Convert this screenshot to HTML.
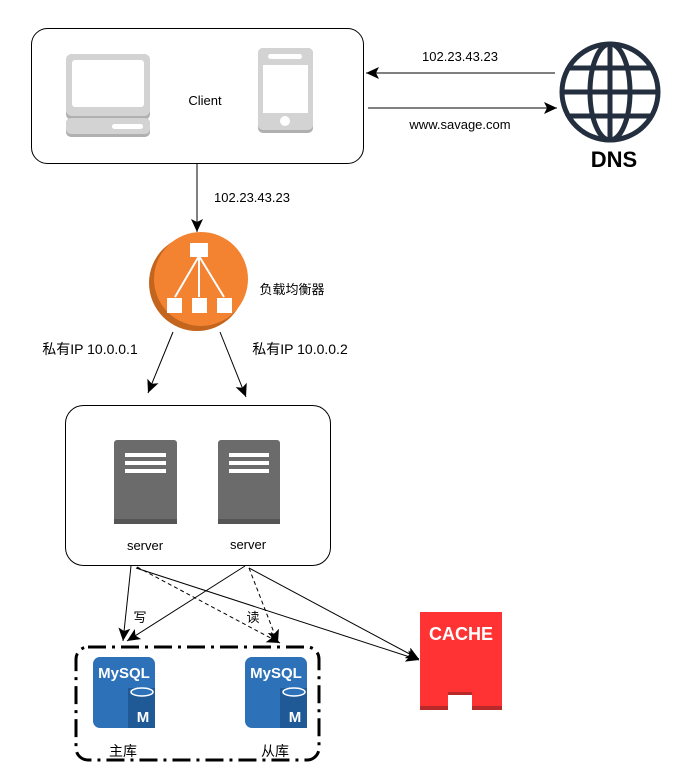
<!DOCTYPE html>
<html><head><meta charset="utf-8"><style>body{margin:0;background:#fff}svg{display:block}text{font-family:"Liberation Sans","Noto Sans CJK SC",sans-serif}</style></head><body>
<svg width="696" height="778" viewBox="0 0 696 778" xmlns="http://www.w3.org/2000/svg">
<defs><marker id="a" markerWidth="14" markerHeight="14" refX="13" refY="6" orient="auto" markerUnits="userSpaceOnUse"><path d="M0,0 L13,6 L0,12 L3,6z" fill="#000"/></marker></defs>
<rect x="31.5" y="28.5" width="332" height="135" rx="16" fill="#fff" stroke="#000"/>
<rect x="66" y="54" width="84" height="66" rx="6" fill="#b0b0b0"/>
<rect x="66" y="54" width="84" height="62" rx="6" fill="#d3d3d3"/>
<rect x="72" y="60" width="72" height="47" rx="3" fill="#fff"/>
<rect x="66" y="118" width="84" height="19" rx="5" fill="#b0b0b0"/>
<rect x="66" y="118" width="84" height="16" rx="5" fill="#d3d3d3"/>
<rect x="112" y="124" width="31" height="5" rx="2.5" fill="#fff"/>
<rect x="258" y="48" width="55" height="85" rx="5" fill="#b0b0b0"/>
<rect x="258" y="48" width="55" height="82" rx="5" fill="#d3d3d3"/>
<rect x="268" y="54" width="34" height="5" rx="2.5" fill="#fff"/>
<rect x="263" y="65" width="45" height="48" fill="#fff"/>
<circle cx="285" cy="121" r="5" fill="#fff"/>
<text x="205" y="105" font-size="13" text-anchor="middle">Client</text>
<g fill="none" stroke="#232f3e" stroke-width="5"><circle cx="610" cy="92" r="48"/><ellipse cx="610" cy="92" rx="20" ry="48"/><line x1="610" y1="44" x2="610" y2="140"/><line x1="562" y1="92" x2="658" y2="92"/><path d="M568,68 H652 M568,116 H652"/></g>
<text x="614" y="167" font-size="22" font-weight="bold" text-anchor="middle">DNS</text>
<line x1="555" y1="73" x2="366" y2="73" stroke="#000" marker-end="url(#a)"/>
<text x="460" y="61" font-size="13" text-anchor="middle">102.23.43.23</text>
<line x1="368" y1="108" x2="557" y2="108" stroke="#000" marker-end="url(#a)"/>
<text x="460" y="129" font-size="13" text-anchor="middle">www.savage.com</text>
<line x1="197" y1="164" x2="197" y2="232" stroke="#000" marker-end="url(#a)"/>
<text x="252" y="202" font-size="13" text-anchor="middle">102.23.43.23</text>
<circle cx="197" cy="283" r="48" fill="#c4651d"/>
<circle cx="201" cy="279" r="47" fill="#f38231"/>
<g fill="#fff" stroke="#fff" stroke-width="2"><rect x="191" y="244" width="16" height="12"/><rect x="168" y="299" width="13" height="13"/><rect x="193" y="299" width="13" height="13"/><rect x="218" y="299" width="13" height="13"/><path d="M199,256 V297 M199,256 L175,297 M199,256 L224,297" fill="none"/></g>
<text x="292" y="294" font-size="13" text-anchor="middle">负载均衡器</text>
<line x1="173" y1="332" x2="148" y2="393" stroke="#000" marker-end="url(#a)"/>
<line x1="220" y1="332" x2="246" y2="397" stroke="#000" marker-end="url(#a)"/>
<text x="90" y="354" font-size="14" text-anchor="middle">私有IP 10.0.0.1</text>
<text x="300" y="354" font-size="14" text-anchor="middle">私有IP 10.0.0.2</text>
<rect x="65.5" y="405.5" width="265" height="160" rx="18" fill="#fff" stroke="#000"/>
<g><rect x="114" y="440" width="63" height="84" rx="3" fill="#6b6b6b"/><rect x="114" y="519" width="63" height="5" fill="#555"/><g fill="#fff"><rect x="125" y="453" width="41" height="4"/><rect x="125" y="461" width="41" height="4"/><rect x="125" y="469" width="41" height="4"/></g></g>
<g><rect x="218" y="440" width="62" height="84" rx="3" fill="#6b6b6b"/><rect x="218" y="519" width="62" height="5" fill="#555"/><g fill="#fff"><rect x="229" y="453" width="40" height="4"/><rect x="229" y="461" width="40" height="4"/><rect x="229" y="469" width="40" height="4"/></g></g>
<text x="145" y="550" font-size="13" text-anchor="middle">server</text>
<text x="248" y="549" font-size="13" text-anchor="middle">server</text>
<g stroke="#000" fill="none">
<line x1="131" y1="566" x2="123" y2="641" marker-end="url(#a)"/>
<line x1="245" y1="566" x2="127" y2="641" marker-end="url(#a)"/>
<line x1="137" y1="567" x2="280" y2="643" stroke-dasharray="4,3" marker-end="url(#a)"/>
<line x1="249" y1="568" x2="278" y2="643" stroke-dasharray="4,3" marker-end="url(#a)"/>
<line x1="136" y1="568" x2="419" y2="660" marker-end="url(#a)"/>
<line x1="249" y1="568" x2="419" y2="659" marker-end="url(#a)"/>
</g>
<text x="140" y="622" font-size="13" text-anchor="middle">写</text>
<text x="253" y="622" font-size="13" text-anchor="middle">读</text>
<rect x="76" y="647" width="243" height="113" rx="12" fill="none" stroke="#000" stroke-width="3" stroke-dasharray="18,6,3,6"/>
<g font-weight="bold" fill="#fff">
<rect x="93" y="657" width="62" height="71" rx="7" fill="#2d72b8"/>
<rect x="128" y="688" width="27" height="40" fill="#1f5a96"/>
<ellipse cx="142" cy="692" rx="11" ry="4" fill="#2d72b8" stroke="#fff" stroke-width="1.5"/>
<text x="124" y="678" font-size="15" text-anchor="middle">MySQL</text><text x="143" y="722" font-size="15" text-anchor="middle">M</text>
<rect x="245" y="657" width="62" height="71" rx="7" fill="#2d72b8"/>
<rect x="280" y="688" width="27" height="40" fill="#1f5a96"/>
<ellipse cx="294" cy="692" rx="11" ry="4" fill="#2d72b8" stroke="#fff" stroke-width="1.5"/>
<text x="276" y="678" font-size="15" text-anchor="middle">MySQL</text><text x="295" y="722" font-size="15" text-anchor="middle">M</text>
</g>
<text x="123" y="756" font-size="14" text-anchor="middle">主库</text>
<text x="275" y="756" font-size="14" text-anchor="middle">从库</text>
<rect x="420" y="612" width="82" height="98" fill="#f33"/>
<rect x="420" y="706" width="82" height="4" fill="#b82a2a"/>
<rect x="448" y="692" width="24" height="18" fill="#fff"/>
<rect x="448" y="692" width="24" height="3" fill="#b82a2a"/>
<text x="461" y="640" font-size="18" font-weight="bold" fill="#fff" text-anchor="middle">CACHE</text>
</svg></body></html>
